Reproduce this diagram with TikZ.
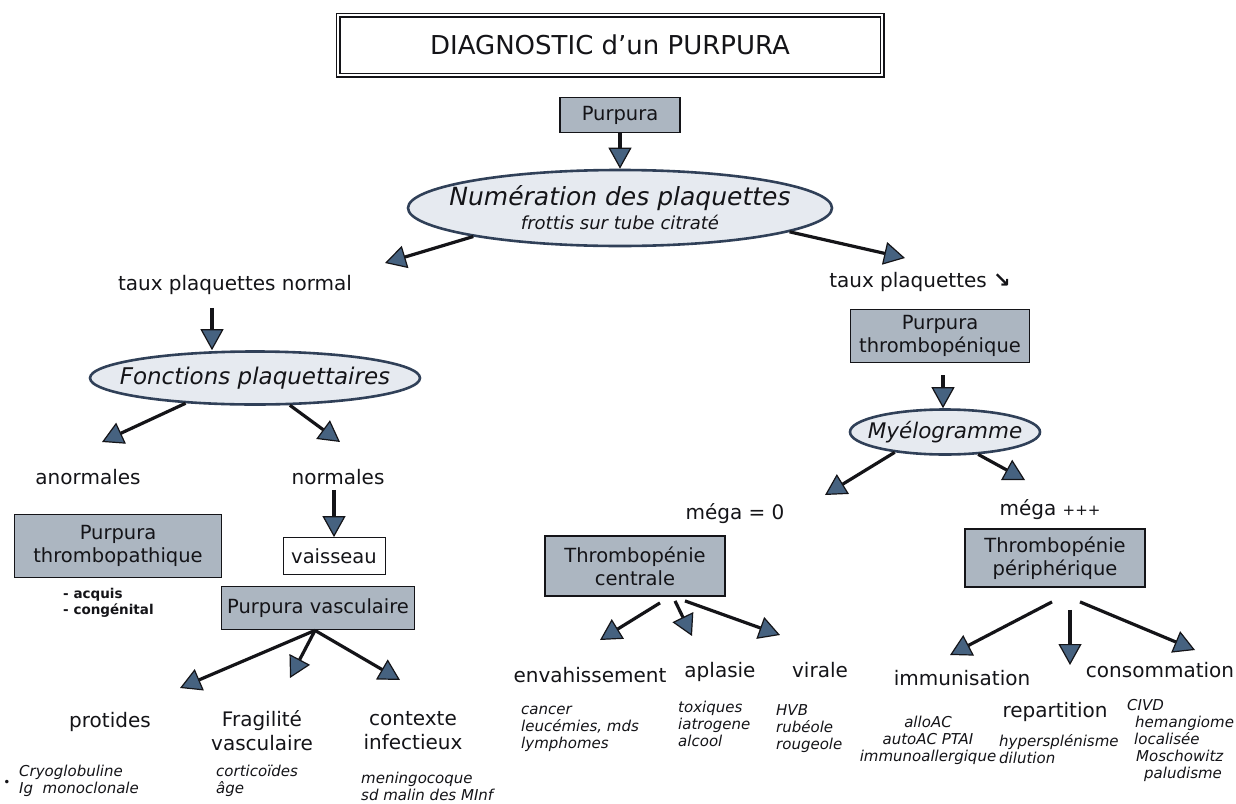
\documentclass[tikz,border=0pt]{standalone}
\usepackage{fontspec}
\setmainfont{DejaVu Sans}
\usetikzlibrary{arrows.meta,shapes.geometric}
\definecolor{boxfill}{RGB}{172,182,193}
\definecolor{ellfill}{RGB}{230,234,240}
\definecolor{ellline}{RGB}{48,64,88}
\definecolor{tipc}{RGB}{70,98,128}
\definecolor{ink}{RGB}{20,20,24}
\tikzset{
  txt/.style={text=ink, font=\fontsize{20}{24}\selectfont, align=center, inner sep=1pt},
  itx/.style={text=ink, font=\fontsize{15}{17}\selectfont\itshape, align=left, inner sep=1pt},
  smalltx/.style={text=ink, font=\fontsize{13.5}{16}\selectfont\bfseries, align=left, inner sep=1pt},
  gbox/.style={draw=ink, line width=1.8pt, fill=boxfill, text=ink, align=center,
    font=\fontsize{19.5}{23}\selectfont, inner sep=2pt},
  wbox/.style={draw=ink, line width=0.8pt, fill=white, text=ink, align=center,
    font=\fontsize{19.5}{23}\selectfont},
  ellnode/.style={ellipse, draw=ellline, line width=2.6pt, fill=ellfill, text=ink, align=center, inner ysep=0pt},
  arr/.style={draw=ink, line width=3.2pt, -{Triangle[length=21pt,width=23pt,fill=tipc,line width=1.2pt]}},
}
\begin{document}
\begin{tikzpicture}[x=1pt,y=-1pt]
\useasboundingbox (0,0) rectangle (1236,803);
\fill[white] (0,0) rectangle (1236,803);

% title
\node[draw=ink, line width=1.5pt, double, double distance=2pt, minimum width=544pt, minimum height=60pt,
  text=ink, font=\fontsize{26}{30}\selectfont] (title) at (610,45) {DIAGNOSTIC d'un PURPURA};

% top
\node[gbox, minimum width=120pt, minimum height=35pt] (purpura) at (620,115) {Purpura};
\node[ellnode, inner xsep=-24pt, minimum width=424pt, minimum height=76pt, font=\fontsize{18}{24}\selectfont\itshape] (num) at (620,208)
  {{\fontsize{25}{28}\selectfont Numération des plaquettes}\\frottis sur tube citraté};
\draw[arr] (purpura.south) -- (num.north);

\node[txt] (tpn) at (235,285) {taux plaquettes normal};
\node[txt] (tpb) at (920,282) {taux plaquettes {\fontsize{21}{24}\selectfont\bfseries ↘}};
\coordinate (a1) at (385,263);
\coordinate (a2) at (905,258);
\draw[arr] (num.191) -- (a1);
\draw[arr] (num.-8) -- (a2);

% left branch
\node[ellnode, inner xsep=-19pt, minimum width=330pt, minimum height=53pt, font=\fontsize{23}{26}\selectfont\itshape] (fonc) at (255,378) {Fonctions plaquettaires};
\draw[arr] ([xshift=-23pt,yshift=-12pt]tpn.south) -- ([xshift=-43pt]fonc.north);

\node[txt] (anor) at (88,477) {anormales};
\node[txt] (norm) at (338,477) {normales};
\coordinate (a3) at (102,442);
\coordinate (a4) at (340,442);
\draw[arr] (fonc.200) -- (a3);
\draw[arr] (fonc.-38) -- (a4);

\node[gbox, minimum width=207pt, minimum height=63pt] (pthp) at (118,546) {Purpura\\thrombopathique};
\node[wbox, minimum width=102pt, minimum height=37pt] (vais) at (334,556) {vaisseau};
\draw[arr] ([xshift=-4pt,yshift=-4pt]norm.south) -- (vais.north);
\node[smalltx, anchor=west] (acq) at (62,603) {- acquis\\- congénital};
\node[gbox, minimum width=193pt, minimum height=43pt] (pvas) at (318,608) {Purpura vasculaire};

\node[txt] (prot) at (110,722) {protides};
\node[txt] (frag) at (262,731) {Fragilité\\vasculaire};
\node[txt] (ctx) at (413,731) {contexte\\infectieux};
\coordinate (a5) at (180,688);
\coordinate (a6) at (290,678);
\coordinate (a7) at (400,680);
\draw[arr] ([xshift=-3pt]pvas.south) -- (a5);
\draw[arr] ([xshift=-3pt]pvas.south) -- (a6);
\draw[arr] ([xshift=-3pt]pvas.south) -- (a7);

\node[text=ink, font=\fontsize{12}{12}\selectfont, inner sep=0pt] (bul) at (7,783) {•};
\node[itx, anchor=west] (cryo) at (18,781) {Cryoglobuline\\Ig\ \ monoclonale};
\node[itx, anchor=west] (cort) at (215,781) {corticoïdes\\âge};
\node[itx, anchor=west] (meni) at (360,786) {meningocoque\\sd malin des MInf};

% right branch
\node[gbox, minimum width=179pt, minimum height=53pt] (pthpe) at (940,336) {Purpura\\thrombopénique};
\node[ellnode, inner xsep=-11pt, minimum width=190pt, minimum height=45pt, font=\fontsize{21.5}{24}\selectfont\itshape] (myelo) at (945,432) {Myélogramme};
\draw[arr] ([xshift=3pt,yshift=-12pt]pthpe.south) -- ([xshift=-2pt]myelo.north);

\node[txt] (m0) at (735,514) {méga = 0};
\node[txt] (mp) at (1050,510) {méga {\fontsize{15}{15}\selectfont +++}};
\coordinate (a8) at (825,495);
\coordinate (a9) at (1025,480);
\draw[arr] (myelo.202) -- (a8);
\draw[arr] (myelo.-34) -- (a9);

\node[gbox, minimum width=180pt, minimum height=60pt] (tc) at (635,566) {Thrombopénie\\centrale};
\node[gbox, minimum width=180pt, minimum height=58pt] (tp) at (1055,558) {Thrombopénie\\périphérique};

\node[txt] (env) at (590,675) {envahissement};
\node[txt] (apl) at (720,672) {aplasie};
\node[txt] (vir) at (820,670) {virale};
\coordinate (b1) at (600,640);
\coordinate (b2) at (692,636);
\coordinate (b3) at (780,635);
\draw[arr] ([xshift=25pt,yshift=-6pt]tc.south) -- (b1);
\draw[arr] ([xshift=40pt,yshift=-4pt]tc.south) -- (b2);
\draw[arr] ([xshift=50pt,yshift=-4pt]tc.south) -- (b3);

\node[itx, anchor=west] (envl) at (520,729) {cancer\\leucémies, mds\\lymphomes};
\node[itx, anchor=west] (apll) at (677,724) {toxiques\\iatrogene\\alcool};
\node[itx, anchor=west] (virl) at (775,729) {HVB\\rubéole\\rougeole};

\node[txt] (imm) at (962,678) {immunisation};
\node[txt] (cons) at (1160,670) {consommation};
\node[txt] (rep) at (1055,712) {repartition};
\coordinate (c1) at (950,655);
\coordinate (c2) at (1070,665);
\coordinate (c3) at (1195,650);
\draw[arr] ([xshift=-3pt,yshift=-14pt]tp.south) -- (c1);
\draw[arr] ([xshift=15pt,yshift=-22pt]tp.south) -- (c2);
\draw[arr] ([xshift=25pt,yshift=-14pt]tp.south) -- (c3);

\node[itx, align=center] (imml) at (928,740) {alloAC\\autoAC PTAI\\immunoallergique};
\node[itx, anchor=west] (repl) at (998,749) {hypersplénisme\\dilution};
\node[itx, anchor=west] (consl) at (1126,740) {CIVD\\\hspace{8pt}hemangiome\\\hspace{7pt}localisée\\\hspace{9pt}Moschowitz\\\hspace{17pt}paludisme};
\end{tikzpicture}
\end{document}
